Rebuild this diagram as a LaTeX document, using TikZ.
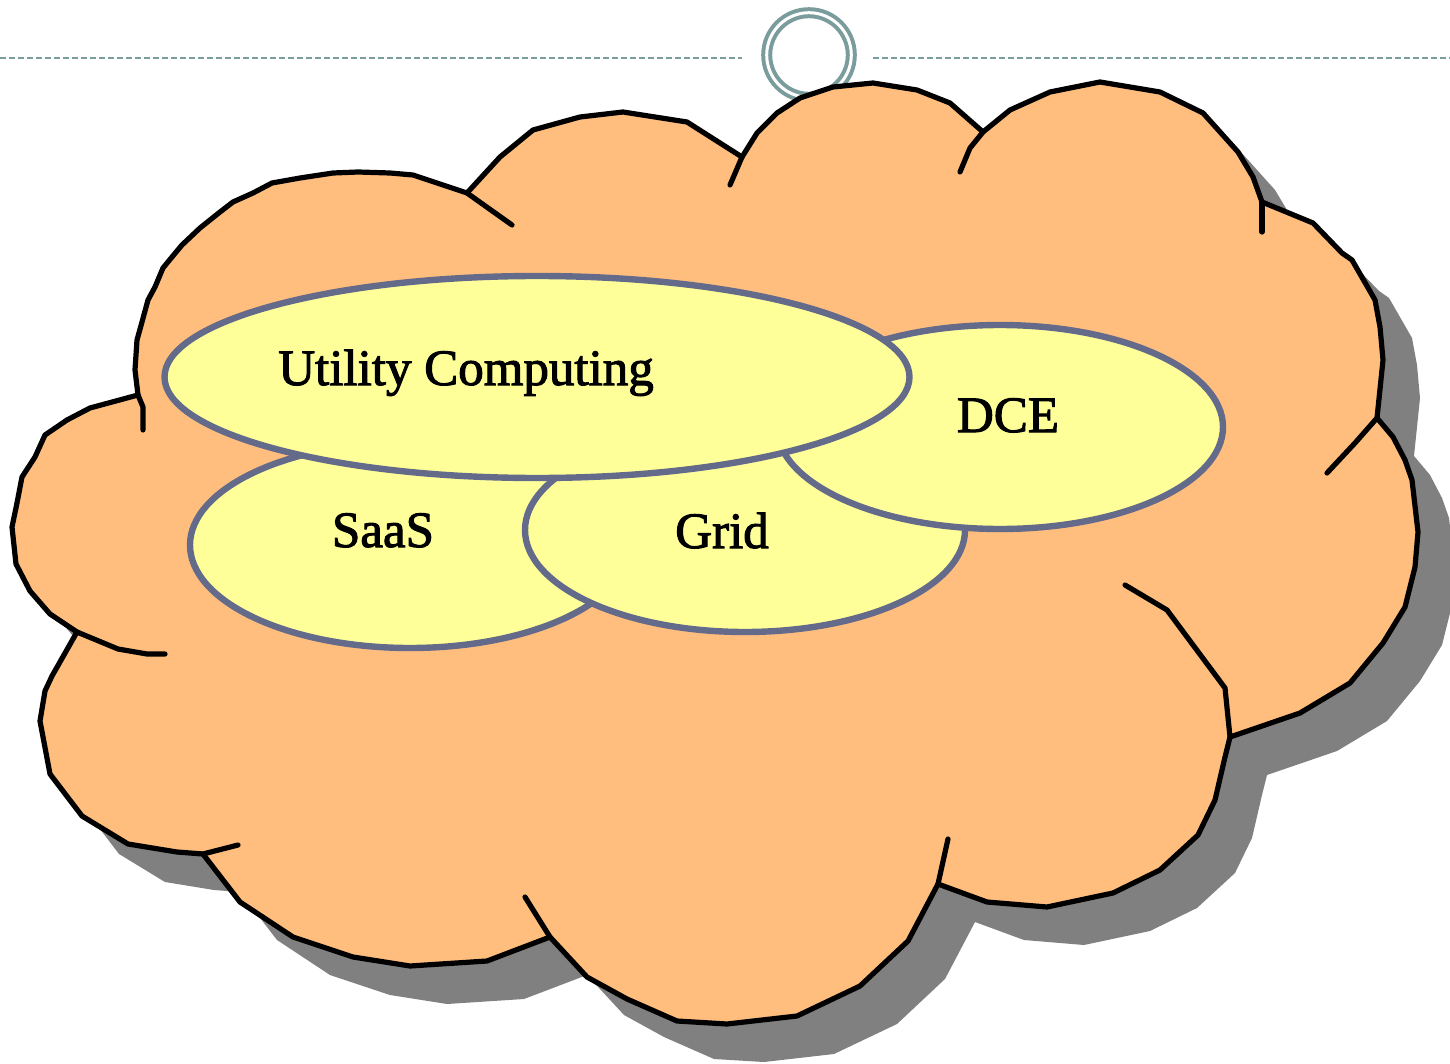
\documentclass[tikz,border=0pt]{standalone}
\usepackage{fontspec}
\setmainfont{Liberation Serif}
\newfontfamily\bubblefont{Liberation Serif}[FakeBold=2]
\usetikzlibrary{shapes.geometric}

\definecolor{cloudorange}{HTML}{FFBE7D}
\definecolor{shadowgray}{HTML}{808080}
\definecolor{bubbleyellow}{HTML}{FFFF99}
\definecolor{bubbleedge}{HTML}{646A8A}
\definecolor{ringteal}{HTML}{7A9C9C}

% outline of the cloud, in pixels of the picture
\newcommand{\cloudoutline}{(138,395) -- (135,370) -- (137,340) -- (142,322) -- (148,300) -- (155,287) -- (163,268) -- (172,257) -- (182,245) -- (200,228) -- (220,212) -- (233,202) -- (253,193) -- (272,183) -- (300,178) -- (333,173) -- (358,172) -- (390,173) -- (413,175) -- (437,183) -- (467,193)
  -- (500,157) -- (533,130) -- (580,117) -- (623,112) -- (687,122) -- (742,157)
  -- (757,133) -- (777,113) -- (800,98) -- (833,87) -- (873,83) -- (917,90) -- (950,103) -- (983,132)
  -- (1010,110) -- (1050,92) -- (1100,82) -- (1160,92) -- (1203,113) -- (1238,152) -- (1253,177) -- (1262,202)
  -- (1313,223) -- (1342,253) -- (1352,260) -- (1375,300) -- (1380,327) -- (1383,360) -- (1377,418)
  -- (1393,437) -- (1405,460) -- (1412,480) -- (1418,532) -- (1415,567) -- (1405,607) -- (1383,643) -- (1350,683) -- (1300,713) -- (1230,737)
  -- (1225,757) -- (1215,800) -- (1198,835) -- (1160,870) -- (1113,893) -- (1047,907) -- (987,902) -- (938,884)
  -- (908,941) -- (860,986) -- (797,1016) -- (727,1024) -- (677,1021) -- (627,999) -- (587,977) -- (550,937)
  -- (487,961) -- (410,966) -- (353,957) -- (293,937) -- (240,902) -- (203,854)
  -- (177,852) -- (128,844) -- (82,816) -- (50,774) -- (40,721) -- (45,691) -- (52,676) -- (77,632)
  -- (50,614) -- (30,591) -- (16,564) -- (12,527) -- (17,503) -- (22,477) -- (35,457) -- (45,435) -- (67,420) -- (90,408) -- cycle}

\begin{document}
\begin{tikzpicture}[x=0.5pt, y=-0.5pt,
        cloudline/.style={draw=black, line width=2.6pt, line join=round, line cap=round},
        bubble/.style={draw=bubbleedge, line width=3.2pt, ellipse, fill=bubbleyellow, inner sep=0pt},
        bubbletext/.style={anchor=base, font=\bubblefont\fontsize{25.5}{30}\selectfont}]
    \useasboundingbox (0,0) rectangle (1450,1064);

    % rule at the top with the ring
    \coordinate (ruleleft) at (0,58);
    \coordinate (rulemidl) at (742,58);
    \coordinate (rulemidr) at (873,58);
    \coordinate (ruleright) at (1450,58);
    \draw[ringteal, line width=0.75pt, dash pattern=on 3pt off 1.5pt] (ruleleft) -- (rulemidl);
    \draw[ringteal, line width=0.75pt, dash pattern=on 3pt off 1.5pt] (rulemidr) -- (ruleright);
    \node[circle, draw=ringteal, double=white, double distance=1.5pt, line width=2pt, minimum size=42.3pt, inner sep=0pt] (ring) at (809,55) {};

    % cloud with its shadow
    \fill[shadowgray, shift={(37,38)}] \cloudoutline;
    \filldraw[cloudline, fill=cloudorange] \cloudoutline;
    \draw[cloudline] (138,395) -- (143,407) -- (143,430);
    \draw[cloudline] (467,193) -- (512,225);
    \draw[cloudline] (742,157) -- (730,185);
    \draw[cloudline] (983,132) -- (970,148) -- (960,172);
    \draw[cloudline] (1262,202) -- (1262,232);
    \draw[cloudline] (1377,418) -- (1355,443) -- (1327,473);
    \draw[cloudline] (1230,737) -- (1225,688) -- (1167,610) -- (1125,585);
    \draw[cloudline] (938,884) -- (948,839);
    \draw[cloudline] (550,937) -- (525,897);
    \draw[cloudline] (203,854) -- (238,845);
    \draw[cloudline] (77,632) -- (118,649) -- (147,654) -- (165,654);

    % the four ellipses
    \node[bubble, minimum width=220pt, minimum height=103pt] (saas) at (410,545) {};
    \node[bubble, minimum width=220pt, minimum height=102pt] (grid) at (745,530) {};
    \node[bubble, minimum width=223pt, minimum height=102pt] (dce) at (1000,427) {};
    \node[bubble, minimum width=372.5pt, minimum height=101pt] (utility) at (537,377) {};

    \node[bubbletext] (saastext) at (383,547) {SaaS};
    \node[bubbletext] (gridtext) at (722,548) {Grid};
    \node[bubbletext] (dcetext) at (1008,432) {DCE};
    \node[bubbletext] (utilitytext) at (466,385) {Utility Computing};
\end{tikzpicture}
\end{document}
